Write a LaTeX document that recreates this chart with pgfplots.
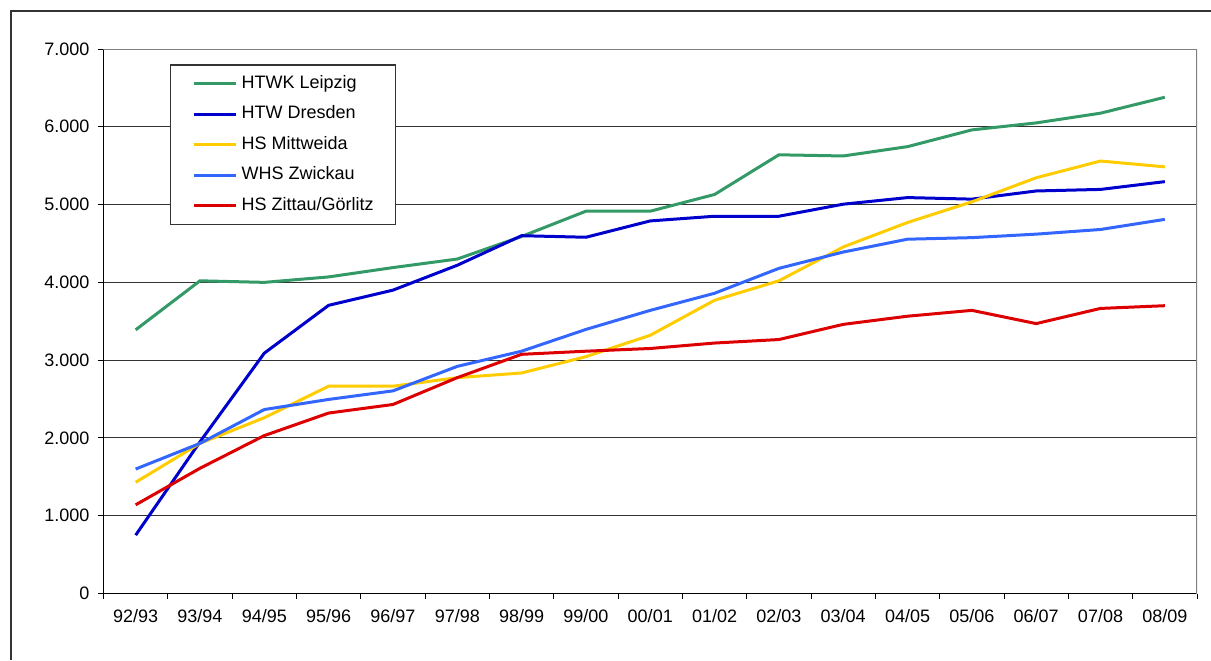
\documentclass[border=0pt]{standalone}
\usepackage{fontspec}
\setmainfont{Liberation Sans}
\usepackage{pgfplots}
\usepackage{pgfplotstable}
\pgfplotsset{compat=1.18}

\definecolor{cLeipzig}{HTML}{339966}
\definecolor{cDresden}{HTML}{0000CC}
\definecolor{cMittweida}{HTML}{FFCC00}
\definecolor{cZwickau}{HTML}{3366FF}
\definecolor{cZittau}{HTML}{DD0000}

% students per winter semester
\pgfplotstableread{
i  L     D     M     Z     G
0  3390  750   1430  1600  1140
1  4020  1950  1930  1930  1610
2  4000  3090  2260  2365  2030
3  4070  3705  2665  2495  2320
4  4190  3900  2665  2605  2430
5  4300  4220  2775  2920  2775
6  4590  4600  2835  3115  3075
7  4915  4580  3045  3395  3115
8  4915  4790  3320  3640  3150
9  5130  4850  3770  3860  3220
10 5640  4850  4020  4180  3265
11 5625  5005  4455  4390  3460
12 5745  5090  4770  4555  3565
13 5960  5070  5035  4575  3640
14 6050  5175  5345  4620  3470
15 6175  5195  5560  4680  3665
16 6380  5295  5485  4810  3700
}\studdata

\begin{document}
\begin{tikzpicture}[font=\fontsize{9}{11}\selectfont]
	\path[use as bounding box] (0,0) rectangle (605.5pt,330pt);
	% outer chart frame
	\draw[line width=0.6pt, black!80] (5.5pt,0pt) -- (5.5pt,324.5pt) -- (605.5pt,324.5pt);
	\begin{axis}[
		at={(51.75pt,33.25pt)}, anchor=south west,
		scale only axis,
		width=546.75pt, height=272.25pt,
		xmin=-0.5, xmax=16.5,
		ymin=0, ymax=7000,
		xtick={-0.5,0.5,...,16.5},
		x tick label as interval,
		xticklabels={92/93,93/94,94/95,95/96,96/97,97/98,98/99,99/00,00/01,01/02,02/03,03/04,04/05,05/06,06/07,07/08,08/09},
		ytick={0,1000,...,7000},
		scaled y ticks=false,
		yticklabel style={/pgf/number format/1000 sep={.}, /pgf/number format/assume math mode=true, xshift=-1pt},
		xticklabel style={yshift=-2pt},
		ymajorgrids,
		grid style={black!80, line width=0.5pt},
		axis x line*=bottom, axis y line*=left,
		axis line style={black, line width=0.6pt, -},
		tick align=outside,
		major tick length=2.5pt,
		tick style={black, line width=0.5pt},
		legend style={
				at={(0.0608,0.9716)}, anchor=north west,
				draw=black!80, line width=0.6pt,
				inner xsep=11pt, inner ysep=5pt,
				row sep=6.8pt,
				nodes={inner sep=0pt, text height=6.5pt, text depth=2pt},
				/tikz/every odd column/.append style={column sep=2pt},
			},
		legend cell align=left,
		legend image code/.code={\draw[#1] (0pt,0pt) -- (21pt,0pt);},
		every axis plot/.append style={line width=1.5pt, no markers},
		]
		\draw[gray, line width=0.6pt] (rel axis cs:0,1) -- (rel axis cs:1,1) -- (rel axis cs:1,0);
		\addplot[cLeipzig] table[x=i, y=L] {\studdata};
		\addplot[cDresden] table[x=i, y=D] {\studdata};
		\addplot[cMittweida] table[x=i, y=M] {\studdata};
		\addplot[cZwickau] table[x=i, y=Z] {\studdata};
		\addplot[cZittau] table[x=i, y=G] {\studdata};
		\legend{HTWK Leipzig, HTW Dresden, HS Mittweida, WHS Zwickau, HS Zittau/Görlitz}
	\end{axis}
\end{tikzpicture}
\end{document}
